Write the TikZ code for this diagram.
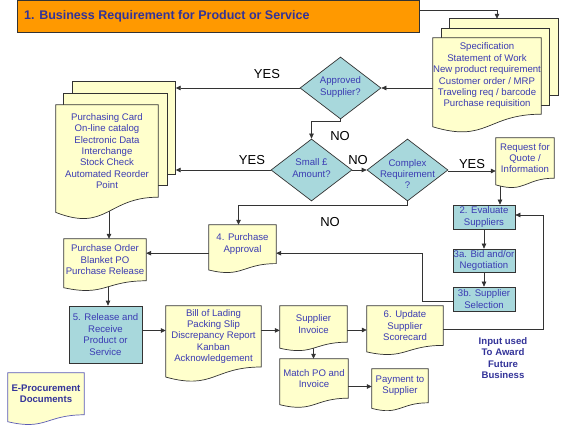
\documentclass[tikz,border=0pt]{standalone}
\usepackage{fontspec}
\setmainfont{Liberation Sans}
\usetikzlibrary{shapes.geometric,arrows.meta,calc,backgrounds}
\definecolor{docf}{HTML}{FFFFCC}
\definecolor{bluef}{HTML}{A8D8DC}
\definecolor{orangef}{HTML}{FF9900}
\definecolor{linec}{HTML}{333333}
\definecolor{txtb}{HTML}{3B3BB3}
\definecolor{navy}{HTML}{333399}
\definecolor{epline}{HTML}{5A5AB4}
\newcommand\fs{\fontsize{9.6}{11.4}\selectfont}
\newcommand\docbg[2][docsh]{\path[#1] (#2.north west) -- (#2.north east) -- (#2.south east)
  .. controls (#2.south) and ($(#2.south)!-0.381!(#2.north)$) ..
  ($(#2.south west)!-0.1646!(#2.north west)$) -- cycle;}
\begin{document}
\begin{tikzpicture}[x=1pt,y=-1pt,
  box/.style={rectangle, inner sep=0pt, align=center, font=\fs, text=txtb},
  pg/.style={rectangle, inner sep=0pt},
  bbox/.style={box, draw=linec, fill=bluef, line width=0.7pt},
  dia/.style={diamond, inner sep=0pt, minimum width=81pt, minimum height=62pt, draw=linec, fill=bluef, line width=0.7pt},
  docsh/.style={draw=linec, fill=docf, line width=0.7pt},
  epsh/.style={draw=epline, fill=docf, line width=0.7pt},
  pgsh/.style={draw=linec, fill=docf, line width=0.7pt},
  arr/.style={draw=linec, line width=0.7pt, -{Triangle[length=5pt,width=4.5pt]}},
  lbl/.style={font=\fontsize{13}{15}\selectfont, text=black, inner sep=0pt}]
\useasboundingbox (0,0) rectangle (570,430);

% title
\node[rectangle, inner sep=0pt, minimum width=402pt, minimum height=32pt, fill=orangef, draw=linec, line width=0.7pt, anchor=north west] (title) at (17,0.5) {};
\node[anchor=west, font=\bfseries\fontsize{12.5}{14}\selectfont, text=navy, inner sep=0pt] (titlet) at (24,16.5) {1. Business Requirement for Product or Service};

% specification stack
\node[pg, minimum width=108pt, minimum height=76pt] (spec3) at (504,57) {};
\node[pg, minimum width=107pt, minimum height=76pt] (spec2) at (495.5,67) {};
\node[box, minimum width=108pt, minimum height=76pt] (spec) at (487,76) {Specification\\Statement of Work\\New product requirement\\Customer order / MRP\\Traveling req / barcode\\Purchase requisition};

% purchasing card stack
\node[pg, minimum width=103pt, minimum height=92pt] (pc3) at (124,128) {};
\node[pg, minimum width=103pt, minimum height=92pt] (pc2) at (115.5,139.5) {};
\node[box, minimum width=102pt, minimum height=92pt] (pc) at (107,151) {Purchasing Card\\On-line catalog\\Electronic Data\\Interchange\\Stock Check\\Automated Reorder\\Point};

% diamonds
\node[dia] (ad) at (340.5,88) {};
\node[box] (adt) at (340.5,87) {Approved\\Supplier?};
\node[dia] (sd) at (311.5,170) {};
\node[box] (sdt) at (311.5,168) {Small £\\Amount?};
\node[dia] (cd) at (407.5,170) {};
\node[box] (cdt) at (407.5,174) {Complex\\Requirement\\?};

% documents
\node[box, minimum width=58pt, minimum height=40pt] (rfq) at (525,158) {Request for\\Quote /\\Information};
\node[box, minimum width=67pt, minimum height=38.4pt] (pa) at (242.5,244.2) {4. Purchase\\Approval};
\node[box, minimum width=82pt, minimum height=41.6pt] (po) at (105,259.8) {Purchase Order\\Blanket PO\\Purchase Release};
\node[box, minimum width=95pt, minimum height=60.8pt] (bill) at (213.5,336.4) {Bill of Lading\\Packing Slip\\Discrepancy Report\\Kanban\\Acknowledgement};
\node[box, minimum width=67pt, minimum height=36pt] (si) at (313.5,324) {Supplier\\Invoice};
\node[box, minimum width=76pt, minimum height=39.2pt] (up) at (405,325.6) {6. Update\\Supplier\\Scorecard};
\node[box, minimum width=68pt, minimum height=39pt] (mt) at (314,378.5) {Match PO and\\Invoice};
\node[box, minimum width=56pt, minimum height=33.6pt] (pay) at (400,385.8) {Payment to\\Supplier};
\node[box, minimum width=76pt, minimum height=41.6pt, font=\bfseries\fs, text=navy] (ep) at (46,393.8) {E-Procurement\\Documents};

% blue process boxes
\node[bbox, minimum width=62pt, minimum height=24pt] (ev) at (484,217) {2. Evaluate\\Suppliers};
\node[bbox, minimum width=62pt, minimum height=23pt] (bid) at (484,260.5) {3a. Bid and/or\\Negotiation};
\node[bbox, minimum width=62pt, minimum height=24pt] (sel) at (484,299) {3b. Supplier\\Selection};
\node[bbox, minimum width=73pt, minimum height=57pt] (rel) at (105.5,334.5) {5. Release and\\Receive\\Product or\\Service};

% free text
\node[align=center, font=\bfseries\fs, text=navy, inner sep=0pt] (inp) at (503,358) {Input used\\To Award\\Future\\Business};
\node[lbl] (l1) at (267,74) {YES};
\node[lbl] (l2) at (340,136) {NO};
\node[lbl] (l3) at (252,160) {YES};
\node[lbl] (l4) at (358,160) {NO};
\node[lbl] (l5) at (472,164) {YES};
\node[lbl] (l6) at (330,222) {NO};

\begin{scope}[on background layer]
\fill[white] (0,0) rectangle (570,430);
% connectors
\draw[arr] ($(title.north east)+(0,10)$) -| ([xshift=-7pt]spec3.north);
\draw[arr] (ad.east -| spec.west) -- (ad.east);
\draw[arr] (ad.west) -- (ad.west -| pc3.east);
\draw[arr] (ad.south) -- ++(0,2) -| (sd.north);
\draw[arr] (sd.west) -- (sd.west -| pc3.east);
\draw[arr] (sd.east) -- (cd.west);
\draw[arr] ([yshift=-1pt]cd.east) -- ([yshift=-1pt]cd.east -| rfq.west);
\draw[arr] ([xshift=-25pt]rfq.south) -- ([xshift=-25pt]rfq.south |- ev.north);
\draw[arr] (ev.south) -- (bid.north);
\draw[arr] (bid.south) -- (sel.north);
\draw[arr] ([yshift=-2pt]sel.west) -- ++(-30,0) |- ([yshift=-9pt]pa.east);
\draw[arr] (cd.south) -- ++(0,4) -| ([xshift=-4pt]pa.north);
\draw[arr] ([yshift=-9pt]pa.west) -- ([yshift=-9pt]pa.west -| po.east);
\draw[arr] ([xshift=2pt]pc.south) -- ([xshift=2pt]pc.south |- po.north);
\draw[arr] ([xshift=3pt]po.south) -- ([xshift=3pt]po.south |- rel.north);
\draw[arr] ([yshift=4pt]rel.east) -- ([yshift=4pt]rel.east -| bill.west);
\draw[arr] ([yshift=6pt]bill.east) -- ([yshift=6pt]bill.east -| si.west);
\draw[arr] ([yshift=-6pt]si.east) -- ([yshift=-6pt]si.east -| up.west);
\draw[arr] ([yshift=-4pt]up.east) -- ++(100,0) |- ([yshift=2pt]ev.east);
\draw[arr] (si.south) -- (si.south |- mt.north);
\draw[arr] ([yshift=-8pt]mt.east) -- ([yshift=-8pt]mt.east -| pay.west);
% stacked pages
\path[pgsh] (spec3.north west) rectangle (spec3.south east);
\path[pgsh] (spec2.north west) rectangle (spec2.south east);
\path[pgsh] (pc3.north west) rectangle (pc3.south east);
\path[pgsh] (pc2.north west) rectangle (pc2.south east);
% document shapes
\docbg{spec}
\docbg{pc}
\docbg{rfq}
\docbg{pa}
\docbg{po}
\docbg{bill}
\docbg{si}
\docbg{up}
\docbg{mt}
\docbg{pay}
\docbg[epsh]{ep}
\end{scope}
\end{tikzpicture}
\end{document}
